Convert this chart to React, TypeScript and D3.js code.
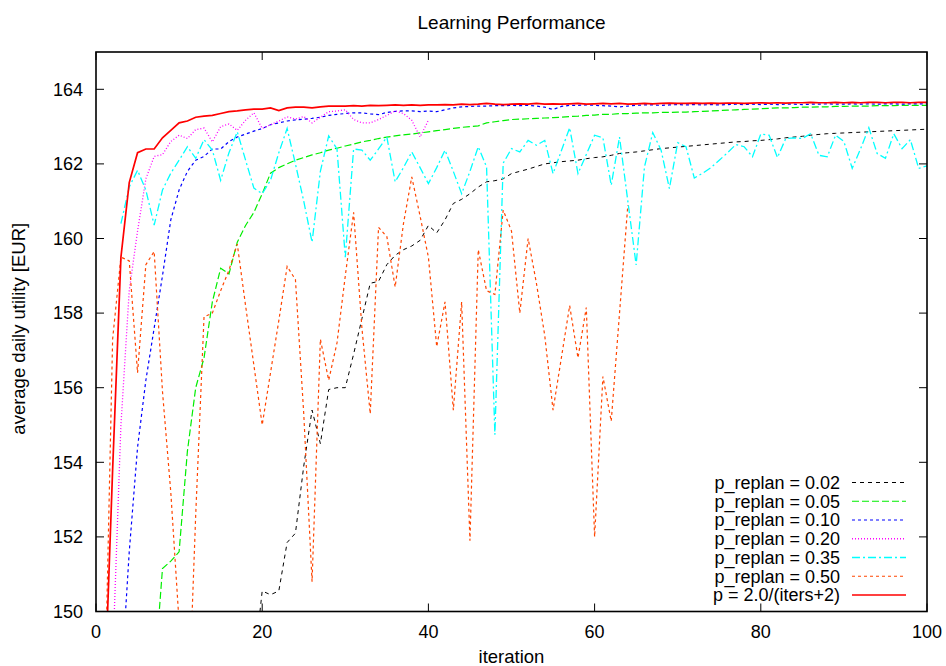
import { useEffect, useRef } from "react";
import * as d3 from "d3";

// iteration axis / value axis ticks
const xTicks = [0, 20, 40, 60, 80, 100];
const yTicks = [150, 152, 154, 156, 158, 160, 162, 164];

// series values, one per iteration, starting at the given iteration
const p002Start = 19;
const p002 = [148.5, 150.55, 150.45, 150.55, 151.85, 152.1, 153.9, 155.4, 154.5, 155.95,
  156.0, 156.0, 156.9, 157.85, 158.8, 158.85, 159.3, 159.55, 159.7, 159.8,
  159.95, 160.35, 160.15, 160.5, 160.94, 161.05, 161.2, 161.38, 161.52, 161.55,
  161.6, 161.74, 161.8, 161.86, 161.93, 162.0, 162.03, 162.06, 162.08, 162.1,
  162.14, 162.17, 162.19, 162.23, 162.28, 162.3, 162.32, 162.35, 162.38, 162.41,
  162.43, 162.45, 162.47, 162.49, 162.51, 162.53, 162.55, 162.57, 162.59, 162.6,
  162.62, 162.63, 162.65, 162.67, 162.7, 162.72, 162.74, 162.77, 162.79, 162.81,
  162.82, 162.83, 162.84, 162.85, 162.86, 162.87, 162.88, 162.89, 162.9, 162.91,
  162.92, 162.93];

const p005Start = 7;
const p005 = [148.2, 151.15, 151.35, 151.6,
  154.3, 156.0, 156.8, 158.3, 159.2, 159.05, 159.9, 160.35, 160.7, 161.2,
  161.75, 161.9, 162.0, 162.1, 162.17, 162.24, 162.3, 162.37, 162.42, 162.48,
  162.53, 162.59, 162.63, 162.68, 162.72, 162.75, 162.78, 162.8, 162.83, 162.86,
  162.89, 162.92, 162.95, 162.98, 163.0, 163.02, 163.1, 163.13, 163.16, 163.19,
  163.2, 163.21, 163.22, 163.23, 163.24, 163.25, 163.27, 163.28, 163.3, 163.31,
  163.33, 163.33, 163.35, 163.35, 163.36, 163.37, 163.37, 163.38, 163.38, 163.39,
  163.39, 163.4, 163.41, 163.42, 163.43, 163.44, 163.45, 163.46, 163.47, 163.48,
  163.49, 163.5, 163.5, 163.51, 163.52, 163.52, 163.53, 163.53, 163.54, 163.54,
  163.55, 163.55, 163.55, 163.56, 163.56, 163.56, 163.57, 163.57, 163.57, 163.57];

const p010Start = 3;
const p010 = [148, 151.6, 154.4, 156.2, 157.6, 159.0, 160.5, 161.3,
  161.8, 162.1, 162.2, 162.4, 162.4, 162.6, 162.72, 162.8, 162.88, 162.95,
  163.05, 163.1, 163.15, 163.18, 163.2, 163.22, 163.25, 163.3, 163.33, 163.35,
  163.37, 163.37, 163.34, 163.32, 163.38, 163.41, 163.42, 163.42, 163.4, 163.42,
  163.4, 163.45, 163.5, 163.53, 163.54, 163.55, 163.55, 163.56, 163.56, 163.57,
  163.56, 163.57, 163.55, 163.52, 163.46, 163.54, 163.57, 163.57, 163.58, 163.57,
  163.56, 163.55, 163.53, 163.55, 163.57, 163.58, 163.58, 163.57, 163.58, 163.59,
  163.58, 163.59, 163.58, 163.59, 163.58, 163.59, 163.6, 163.59, 163.6, 163.59,
  163.6, 163.59, 163.6, 163.6, 163.59, 163.6, 163.6, 163.61, 163.6, 163.6,
  163.61, 163.6, 163.61, 163.6, 163.61, 163.61, 163.6, 163.61, 163.61, 163.61];

const p020Start = 2;
const p020 = [148.7, 155.0, 158.6, 160.2, 161.6, 162.2, 162.25, 162.6, 162.77,
  162.68, 162.92, 162.96, 162.59, 163.0, 163.07, 162.9, 163.17, 163.37, 162.95,
  163.05, 163.15, 163.26, 163.2, 163.27, 163.1, 163.25, 163.4, 163.42, 163.45,
  163.19, 163.1, 163.1, 163.19, 163.3, 163.42, 163.35, 163.17, 162.72, 163.17];

const p035Start = 3;
const p035 = [160.4, 161.38, 161.83, 161.3, 160.36, 161.3, 161.75, 162.1,
  162.46, 162.15, 162.65, 162.37, 161.56, 162.3, 162.86, 162.1, 161.35, 161.2,
  161.56, 162.3, 162.95, 162.0, 161.0, 159.9, 161.8, 162.75, 162.4, 159.5,
  162.4, 162.37, 162.1, 162.4, 162.72, 161.52, 161.9, 162.32, 161.9, 161.47,
  161.9, 162.37, 161.8, 161.2, 161.8, 162.46, 161.92, 154.74, 162.02, 162.41,
  162.32, 162.63, 162.5, 162.63, 161.74, 162.35, 162.97, 161.74, 162.25, 162.77,
  162.7, 161.43, 162.72, 161.0, 159.29, 161.92, 162.84, 162.37, 161.34, 162.57,
  162.46, 161.62, 161.75, 161.9, 162.1, 162.3, 162.52, 162.46, 162.19, 162.8,
  162.77, 162.17, 162.68, 162.7, 162.68, 162.81, 162.23, 162.19, 162.77, 162.6,
  161.88, 162.4, 162.97, 162.28, 162.15, 162.81, 162.41, 162.65, 161.88, 161.95];

const p050Start = 1;
const p050 = [147, 157.3, 159.5, 159.4, 156.4, 159.3, 159.65, 155.9, 153.2, 149.7,
  146.5, 152.6, 157.9, 158.0, 158.6, 159.15, 159.85, 158.2, 156.6, 155.0,
  156.4, 157.8, 159.25, 158.9, 155.3, 150.8, 157.3, 156.2, 157.2, 159.0,
  160.7, 157.6, 155.3, 160.3, 160.05, 158.7, 160.4, 161.65, 160.6, 159.5,
  157.1, 158.3, 155.4, 158.3, 151.9, 159.7, 158.6, 158.5, 160.76, 160.2,
  158.0, 160.0, 158.8, 157.4, 155.4, 156.8, 158.2, 156.8, 158.15, 152.0,
  156.3, 155.1, 158.0, 160.9];

const pItersStart = 1;
const pIters = [147.5, 153.8, 159.5, 161.5, 162.3, 162.4, 162.4, 162.7, 162.9, 163.1,
  163.15, 163.25, 163.28, 163.3, 163.35, 163.4, 163.42, 163.45, 163.47, 163.47,
  163.5, 163.43, 163.5, 163.52, 163.52, 163.5, 163.53, 163.55, 163.55, 163.55,
  163.56, 163.55, 163.57, 163.56, 163.57, 163.58, 163.57, 163.58, 163.57, 163.58,
  163.58, 163.59, 163.58, 163.6, 163.59, 163.6, 163.62, 163.6, 163.59, 163.6,
  163.61, 163.6, 163.62, 163.6, 163.61, 163.6, 163.61, 163.62, 163.6, 163.61,
  163.62, 163.61, 163.62, 163.6, 163.61, 163.62, 163.61, 163.62, 163.63, 163.62,
  163.62, 163.63, 163.62, 163.63, 163.62, 163.63, 163.63, 163.62, 163.63, 163.64,
  163.63, 163.64, 163.63, 163.64, 163.64, 163.65, 163.64, 163.64, 163.65, 163.64,
  163.65, 163.64, 163.65, 163.65, 163.64, 163.65, 163.65, 163.64, 163.65, 163.65];

const labels = ["p_replan = 0.02", "p_replan = 0.05", "p_replan = 0.10", "p_replan = 0.20",
  "p_replan = 0.35", "p_replan = 0.50", "p = 2.0/(iters+2)"];

const series = [
  { start: p002Start, values: p002, color: "#000000", dash: "4,4", width: 1 },
  { start: p005Start, values: p005, color: "#00ee00", dash: "7,3", width: 1.2 },
  { start: p010Start, values: p010, color: "#0000ff", dash: "3,3", width: 1.2 },
  { start: p020Start, values: p020, color: "#ff00ff", dash: "1,2", width: 1.3 },
  { start: p035Start, values: p035, color: "#00ffff", dash: "8,3,2,3", width: 1.3 },
  { start: p050Start, values: p050, color: "#ff4500", dash: "3,3", width: 1.2 },
  { start: pItersStart, values: pIters, color: "#ff0000", dash: null, width: 1.7 },
];

const font = "'Liberation Sans', Arial, sans-serif";

export default function App() {
  const ref = useRef<SVGSVGElement>(null);

  useEffect(() => {
    const svg = d3.select(ref.current);
    svg.selectAll("*").remove();

    const left = 96, right = 927, top = 52, bottom = 611.5;
    const x = d3.scaleLinear().domain([0, 100]).range([left, right]);
    const y = d3.scaleLinear().domain([150, 165]).range([bottom, top]);

    svg.append("defs").append("clipPath").attr("id", "plot")
      .append("rect")
      .attr("x", left).attr("y", top)
      .attr("width", right - left).attr("height", bottom - top);

    // ticks, mirrored on all sides
    const tl = 8;
    const g = svg.append("g").attr("stroke", "#000").attr("stroke-width", 1);
    xTicks.forEach(t => {
      g.append("line").attr("x1", x(t)).attr("x2", x(t)).attr("y1", bottom).attr("y2", bottom - tl);
      g.append("line").attr("x1", x(t)).attr("x2", x(t)).attr("y1", top).attr("y2", top + tl);
    });
    yTicks.forEach(t => {
      g.append("line").attr("x1", left).attr("x2", left + tl).attr("y1", y(t)).attr("y2", y(t));
      g.append("line").attr("x1", right).attr("x2", right - tl).attr("y1", y(t)).attr("y2", y(t));
    });

    const txt = svg.append("g").attr("font-family", font).attr("font-size", 18).attr("fill", "#000");
    txt.selectAll(".xt").data(xTicks).join("text").attr("class", "xt")
      .attr("x", d => x(d)).attr("y", 638).attr("text-anchor", "middle").text(d => d);
    txt.selectAll(".yt").data(yTicks).join("text").attr("class", "yt")
      .attr("x", left - 13).attr("y", d => y(d)).attr("dy", "0.35em")
      .attr("text-anchor", "end").text(d => d);

    txt.append("text").attr("x", (left + right) / 2).attr("y", 29)
      .attr("font-size", 19)
      .attr("text-anchor", "middle").text("Learning Performance");
    txt.append("text").attr("x", (left + right) / 2).attr("y", 663)
      .attr("font-size", 18.5)
      .attr("text-anchor", "middle").text("iteration");
    txt.append("text")
      .attr("transform", `translate(25, ${(top + bottom) / 2 - 3}) rotate(-90)`)
      .attr("font-size", 18.5)
      .attr("text-anchor", "middle").text("average daily utility [EUR]");

    // curves
    const plot = svg.append("g").attr("clip-path", "url(#plot)");
    series.forEach(s => {
      const l = d3.line<number>()
        .x((d, i) => x(s.start + i))
        .y(d => y(d));
      plot.append("path")
        .attr("d", l(s.values))
        .attr("fill", "none")
        .attr("stroke", s.color)
        .attr("stroke-width", s.width)
        .attr("stroke-dasharray", s.dash);
    });

    // legend
    const legend = svg.append("g");
    labels.forEach((lab, i) => {
      const cy = 482.5 + i * 18.75;
      const s = series[i];
      legend.append("text")
        .attr("x", 840).attr("y", cy).attr("dy", "0.35em")
        .attr("text-anchor", "end")
        .attr("font-family", font).attr("font-size", 18)
        .text(lab);
      legend.append("line")
        .attr("x1", 852).attr("x2", 906).attr("y1", cy).attr("y2", cy)
        .attr("stroke", s.color)
        .attr("stroke-width", s.width)
        .attr("stroke-dasharray", s.dash);
    });

    // border
    svg.append("rect")
      .attr("x", left).attr("y", top)
      .attr("width", right - left).attr("height", bottom - top)
      .attr("fill", "none").attr("stroke", "#000").attr("stroke-width", 1.6);
  }, []);

  return (
    <svg ref={ref} width={946} height={666}
      style={{ position: "absolute", left: 0, top: 0, background: "#fff" }} />
  );
}
